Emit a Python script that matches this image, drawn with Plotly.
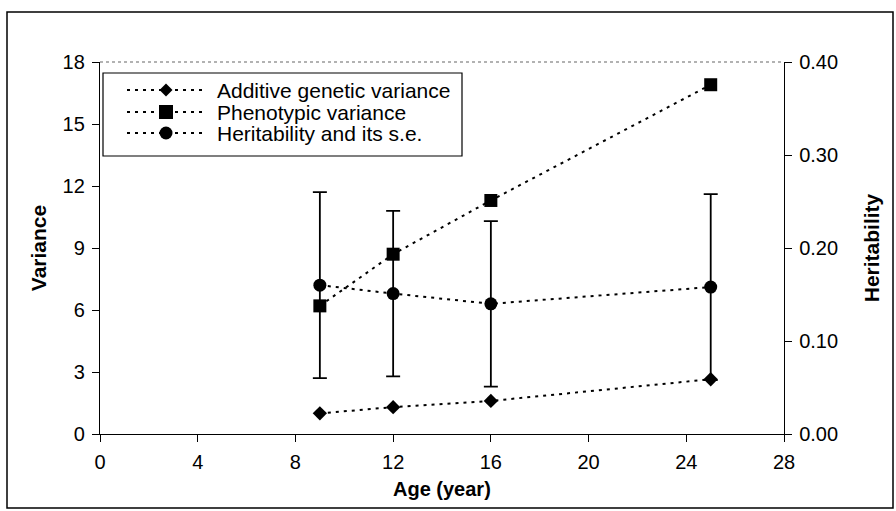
import plotly.graph_objects as go

ages = [9, 12, 16, 25]
additive_var = [1.0, 1.3, 1.6, 2.65]
phenotypic_var = [6.2, 8.7, 11.3, 16.9]
heritability = [0.160, 0.151, 0.140, 0.158]
heritability_se = [0.100, 0.089, 0.089, 0.100]

series_names = ["Additive genetic variance", "Phenotypic variance", "Heritability and its s.e."]
x_ticks = [0, 4, 8, 12, 16, 20, 24, 28]
y_ticks = [0, 3, 6, 9, 12, 15, 18]
y2_ticks = [0.0, 0.1, 0.2, 0.3, 0.4]
x_title = "Age (year)"

FONT = "Liberation Sans, Arial, sans-serif"
line_style = dict(color="black", width=2, dash="3px,5px")

fig = go.Figure()
fig.add_trace(go.Scatter(
    x=ages, y=additive_var, mode="lines+markers", name=series_names[0],
    line=line_style, marker=dict(symbol="diamond", size=11, color="black")))
fig.add_trace(go.Scatter(
    x=ages, y=phenotypic_var, mode="lines+markers", name=series_names[1],
    line=line_style, marker=dict(symbol="square", size=13, color="black")))
fig.add_trace(go.Scatter(
    x=ages, y=heritability, mode="lines+markers", name=series_names[2],
    yaxis="y2", line=line_style, marker=dict(symbol="circle", size=13, color="black"),
    error_y=dict(type="data", array=heritability_se, visible=True,
                 color="black", thickness=1.8, width=7)))

L, R, T, B = 100, 112, 62, 77
W, H = 896, 511
pw, ph = W - L - R, H - T - B

def px(xp):
    return (xp - L) / pw

def py(yp):
    return (H - B - yp) / ph

# ---- hand-built legend (Excel style: long dotted key, tight rows) ----
leg_left, leg_top, leg_right, leg_bottom = 103, 73, 462, 156
row_y = [90, 112, 133]
key_x0, key_x1, key_mid = 127, 205, 166
text_x = 215

shapes = [
    dict(type="line", xref="paper", yref="paper", x0=0, x1=1, y0=1, y1=1,
         line=dict(color="#666666", width=1.2, dash="dot")),
    dict(type="rect", xref="paper", yref="paper",
         x0=px(7), x1=px(893), y0=py(508), y1=py(12),
         line=dict(color="black", width=1.5)),
    dict(type="rect", xref="paper", yref="paper",
         x0=px(leg_left), x1=px(leg_right), y0=py(leg_bottom), y1=py(leg_top),
         line=dict(color="black", width=1.2), fillcolor="white", layer="above"),
]
annotations = []
for i, (name, yy) in enumerate(zip(series_names, row_y)):
    shapes.append(dict(type="line", xref="paper", yref="paper",
                       x0=px(key_x0), x1=px(key_x1), y0=py(yy), y1=py(yy),
                       line=dict(color="black", width=2, dash="3px,5px"), layer="above"))
    if i == 0:
        r = 6.5
        path = (f"M {px(key_mid)},{py(yy - r)} L {px(key_mid + r)},{py(yy)} "
                f"L {px(key_mid)},{py(yy + r)} L {px(key_mid - r)},{py(yy)} Z")
        shapes.append(dict(type="path", xref="paper", yref="paper", path=path,
                           fillcolor="black", line=dict(color="black", width=0), layer="above"))
    elif i == 1:
        r = 7
        shapes.append(dict(type="rect", xref="paper", yref="paper",
                           x0=px(key_mid - r), x1=px(key_mid + r),
                           y0=py(yy + r), y1=py(yy - r),
                           fillcolor="black", line=dict(color="black", width=0), layer="above"))
    else:
        r = 6.5
        shapes.append(dict(type="circle", xref="paper", yref="paper",
                           x0=px(key_mid - r), x1=px(key_mid + r),
                           y0=py(yy + r), y1=py(yy - r),
                           fillcolor="black", line=dict(color="black", width=0), layer="above"))
    annotations.append(dict(xref="paper", yref="paper", x=px(text_x), y=py(yy),
                            xanchor="left", yanchor="middle", text=name, showarrow=False,
                            font=dict(size=21, family=FONT, color="black")))

# x-axis title sits tight under the tick labels, as in the original
annotations.append(dict(xref="paper", yref="paper", x=0.5, y=py(476),
                        xanchor="center", yanchor="top", text=f"<b>{x_title}</b>",
                        showarrow=False, font=dict(size=20, family=FONT, color="black")))

axis_common = dict(showgrid=False, zeroline=False, showline=True, linecolor="black",
                   linewidth=1.3, ticks="outside", ticklen=7, tickcolor="black",
                   tickfont=dict(size=20))

fig.update_layout(
    width=W, height=H,
    margin=dict(l=L, r=R, t=T, b=B),
    paper_bgcolor="white", plot_bgcolor="white",
    font=dict(family=FONT, size=20, color="black"),
    showlegend=False,
    xaxis=dict(range=[0, 28], tickvals=x_ticks, ticktext=[str(v) for v in x_ticks],
               ticklabelstandoff=3, **axis_common),
    yaxis=dict(range=[0, 18], tickvals=y_ticks, ticklabelstandoff=3,
               title=dict(text="<b>Variance</b>", font=dict(size=21), standoff=10),
               **axis_common),
    yaxis2=dict(range=[0, 0.4], tickvals=y2_ticks, tickformat=".2f", overlaying="y",
                side="right", ticklabelstandoff=3,
                title=dict(text="<b>Heritability</b>", font=dict(size=21), standoff=27),
                **axis_common),
    shapes=shapes,
    annotations=annotations,
)

fig.write_html("out.html", config={"displayModeBar": False},
               post_script="document.body.style.margin='0';document.body.style.overflow='hidden';")
